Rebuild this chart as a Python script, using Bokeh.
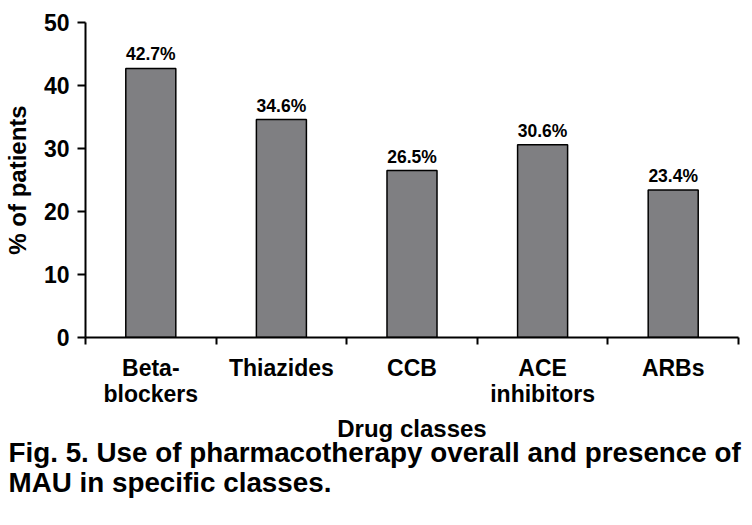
from bokeh.plotting import figure
from bokeh.models import FixedTicker, Range1d, Title, ColumnDataSource
from bokeh.core.properties import value
from bokeh.embed import file_html
from bokeh.resources import INLINE

categories = ["Beta-\nblockers", "Thiazides", "CCB", "ACE\ninhibitors", "ARBs"]
percent = [42.7, 34.6, 26.5, 30.6, 23.4]
value_labels = ["42.7%", "34.6%", "26.5%", "30.6%", "23.4%"]
y_ticks = [0, 10, 20, 30, 40, 50]

FONT = "Liberation Sans"
centers = [i + 0.5 for i in range(len(categories))]
bounds = list(range(len(categories) + 1))

src = ColumnDataSource(dict(x=centers, top=percent, lab=value_labels))

p = figure(frame_width=653, frame_height=315, output_backend="svg",
           toolbar_location=None,
           x_range=Range1d(0, len(categories)), y_range=Range1d(0, 50),
           min_border_left=76, min_border_right=7, min_border_top=22,
           min_border_bottom=150)
p.outline_line_color = None
p.grid.visible = False
p.background_fill_color = "white"

p.vbar(x="x", top="top", width=0.383, bottom=0, source=src,
       fill_color="#7f7f82", line_color="black", line_width=1.5)
p.text(x="x", y="top", text="lab", source=src, y_offset=-14,
       text_align="center", text_baseline="alphabetic",
       text_font=value(FONT), text_font_style="bold", text_font_size="17.5px",
       text_color="black")

# y axis
ya = p.yaxis[0]
ya.ticker = FixedTicker(ticks=y_ticks)
ya.axis_line_width = 2
ya.axis_line_color = "black"
ya.major_tick_line_width = 2
ya.major_tick_out = 8
ya.major_tick_in = 0
ya.minor_tick_line_color = None
ya.major_label_standoff = 8
ya.major_label_text_font = FONT
ya.major_label_text_font_style = "bold"
ya.major_label_text_font_size = "23px"
ya.major_label_text_color = "black"
ya.axis_label = "% of patients"
ya.axis_label_text_font = FONT
ya.axis_label_text_font_style = "bold"
ya.axis_label_text_font_size = "24px"
ya.axis_label_text_color = "black"
ya.axis_label_standoff = 10

# x axis
xa = p.xaxis[0]
xa.ticker = FixedTicker(ticks=centers, minor_ticks=bounds)
xa.major_label_overrides = {c: lab for c, lab in zip(centers, categories)}
xa.axis_line_width = 2
xa.axis_line_color = "black"
xa.major_tick_line_color = None
xa.major_tick_out = 0
xa.major_tick_in = 0
xa.minor_tick_line_width = 2
xa.minor_tick_line_color = "black"
xa.minor_tick_out = 7
xa.minor_tick_in = 0
xa.major_label_standoff = 10
xa.major_label_text_font = FONT
xa.major_label_text_font_style = "bold"
xa.major_label_text_font_size = "23px"
xa.major_label_text_color = "black"
xa.major_label_text_line_height = 1.0
xa.axis_label = "Drug classes"
xa.axis_label_text_font = FONT
xa.axis_label_text_font_style = "bold"
xa.axis_label_text_font_size = "24px"
xa.axis_label_text_color = "black"
xa.axis_label_standoff = 5

cap1 = Title(text="Fig. 5. Use of pharmacotherapy overall and presence of",
             align="left", offset=-77, text_font=FONT,
             text_font_style="bold", text_font_size="27.8px", text_color="black",
             standoff=-20)
cap2 = Title(text="MAU in specific classes.",
             align="left", offset=-77, text_font=FONT,
             text_font_style="bold", text_font_size="27.8px", text_color="black",
             standoff=14)
p.add_layout(cap1, "below")
p.add_layout(cap2, "below")

open("out.html", "w").write(file_html(p, INLINE))
